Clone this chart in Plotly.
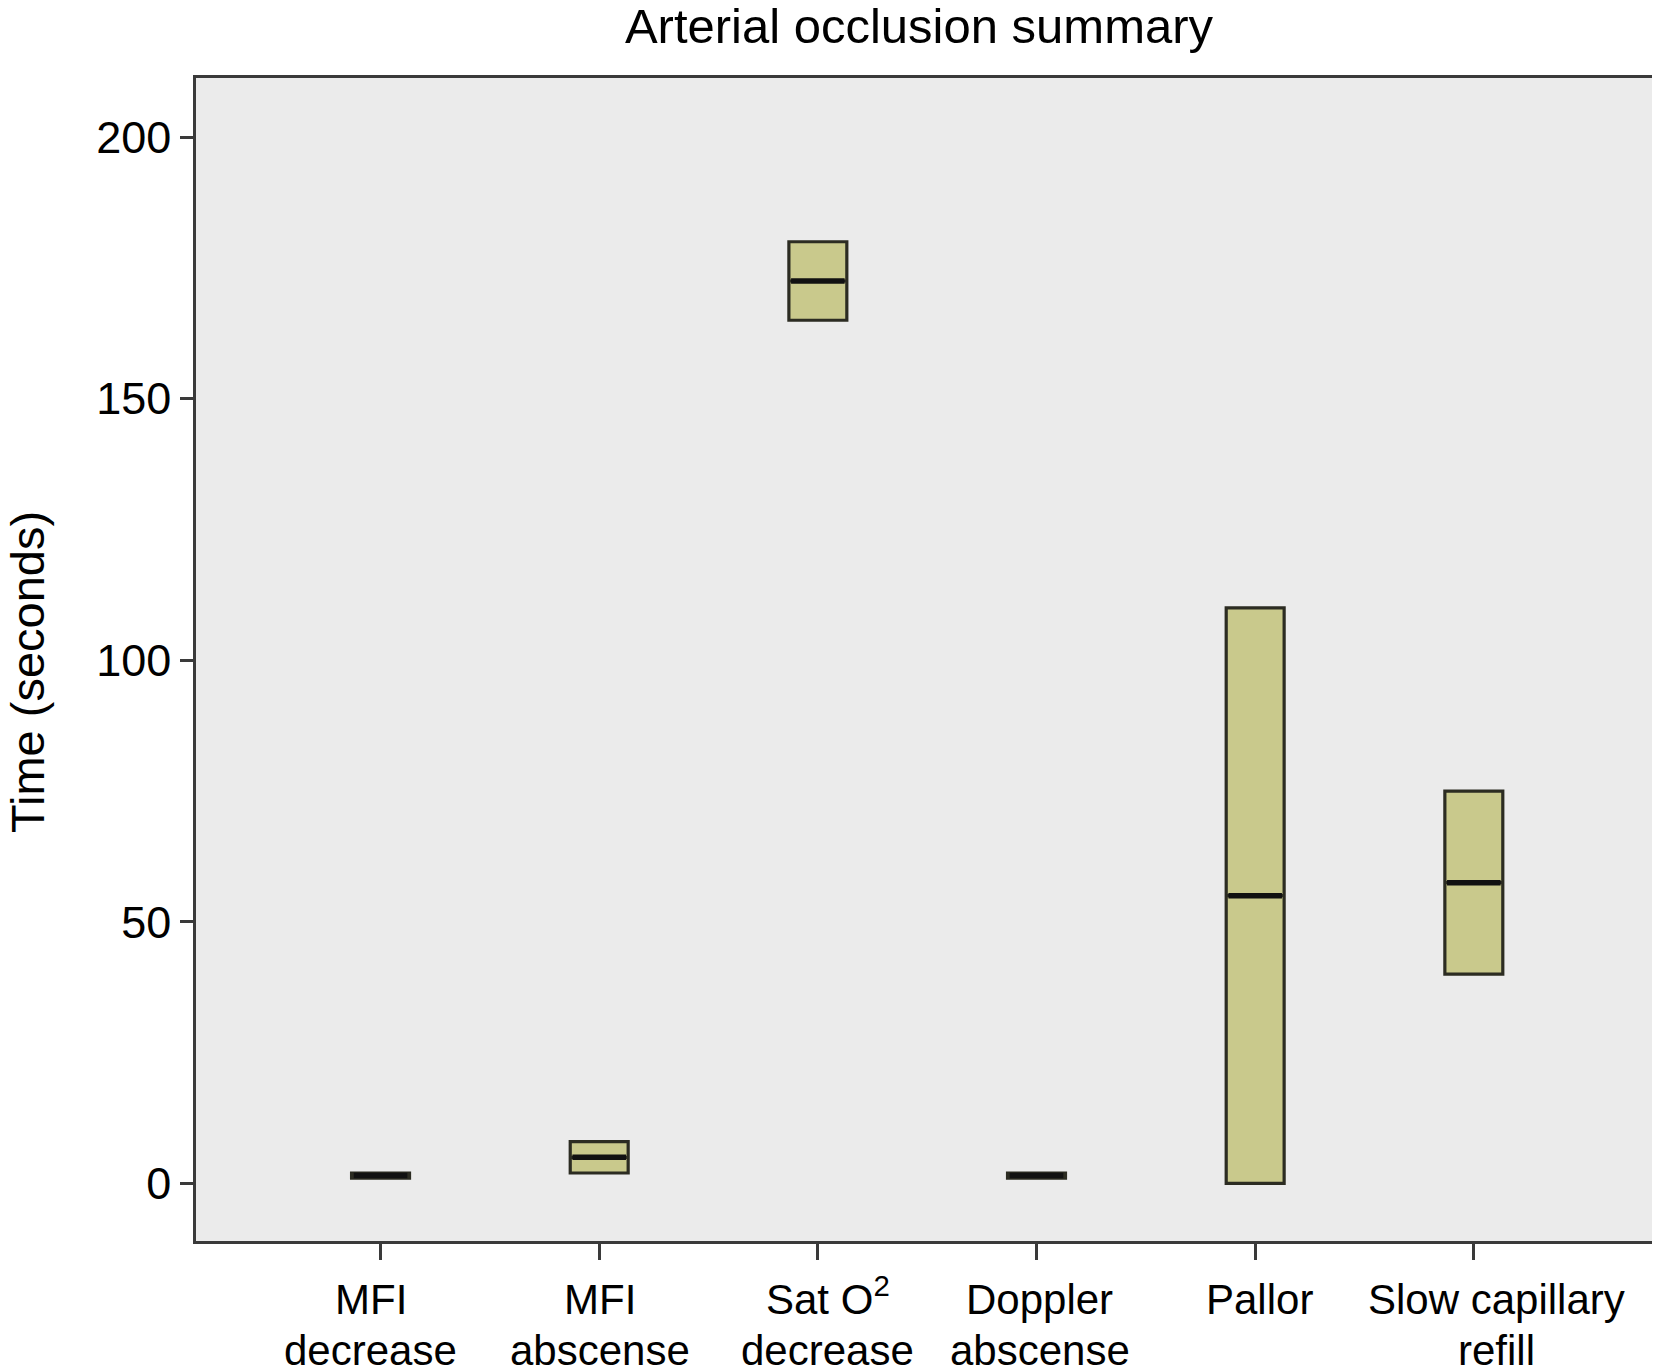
import plotly.graph_objects as go

categories = ["MFI<br>decrease", "MFI<br>abscense", "Sat O<sup>2</sup><br>decrease",
              "Doppler<br>abscense", "Pallor", "Slow capillary<br>refill"]
q1_vals = [1.0, 2.0, 165.0, 1.0, 0.0, 40.0]
median_vals = [1.5, 5.0, 172.5, 1.5, 55.0, 57.5]
q3_vals = [2.0, 8.0, 180.0, 2.0, 110.0, 75.0]
y_ticks = [0, 50, 100, 150, 200]

positions = list(range(len(categories)))
box_w = 0.265

fig = go.Figure()
fig.add_trace(go.Box(
    x=positions, q1=q1_vals, median=median_vals, q3=q3_vals,
    lowerfence=q1_vals, upperfence=q3_vals,
    width=box_w, fillcolor="#C9C98C",
    line=dict(color="#2c2c22", width=3.2),
    boxpoints=False, showlegend=False, hoverinfo="skip",
))

mx, my = [], []
for p, m in zip(positions, median_vals):
    mx += [p - box_w / 2 + 0.01, p + box_w / 2 - 0.01, None]
    my += [m, m, None]
fig.add_trace(go.Scatter(x=mx, y=my, mode="lines",
                         line=dict(color="#111111", width=5.5),
                         showlegend=False, hoverinfo="skip"))

W, H = 1652, 1362
L, R, T, B = 188, 6, 70, 129
plot_w, plot_h = W - L - R, H - T - B
font_family = "Liberation Sans, Arial, Helvetica, sans-serif"

# category labels drawn line by line under each tick (slight horizontal nudges as in the original)
label_nudge_px = [-10, 1, 10, 3, 4, 23]
first_line_shift = -84
line_pitch = 51
annotations = [dict(text="Time (seconds)", textangle=-90, showarrow=False,
                    xref="paper", yref="paper",
                    x=(19 - L) / plot_w, y=1 - (664 - T) / plot_h,
                    xanchor="center", yanchor="middle",
                    font=dict(size=47, color="black"))]
for p, lab, dx in zip(positions, categories, label_nudge_px):
    for i, line in enumerate(lab.split("<br>")):
        annotations.append(dict(text=line, x=p, y=0, xref="x", yref="paper",
                                xanchor="center", yanchor="bottom", showarrow=False,
                                xshift=dx, yshift=first_line_shift - i * line_pitch,
                                font=dict(size=42, color="black")))

fig.update_layout(
    width=W, height=H,
    margin=dict(l=L, r=R, t=T, b=B),
    paper_bgcolor="white", plot_bgcolor="#EBEBEB",
    font=dict(family=font_family, size=42, color="black"),
    title=dict(text="Arterial occlusion summary", x=911 / W, xanchor="center",
               y=1 - 18 / H, yanchor="middle", yref="container",
               font=dict(size=49, color="black")),
    showlegend=False,
    annotations=annotations,
)
fig.update_xaxes(
    range=[-0.844, 5.824], tickvals=positions, ticktext=["" for _ in positions],
    showgrid=False, zeroline=False, showline=True, mirror=True,
    linecolor="#3a3a3a", linewidth=2.5,
    ticks="outside", ticklen=16, tickwidth=2.5, tickcolor="#3a3a3a",
    automargin=False,
)
fig.update_yaxes(
    range=[-11, 211.3], tickvals=y_ticks, ticktext=[str(v) for v in y_ticks],
    showgrid=False, zeroline=False, showline=True, mirror=True,
    linecolor="#3a3a3a", linewidth=2.5,
    ticks="outside", ticklen=13, tickwidth=3, tickcolor="#3a3a3a",
    tickfont=dict(size=45), automargin=False,
)

fig.write_html("out.html")
